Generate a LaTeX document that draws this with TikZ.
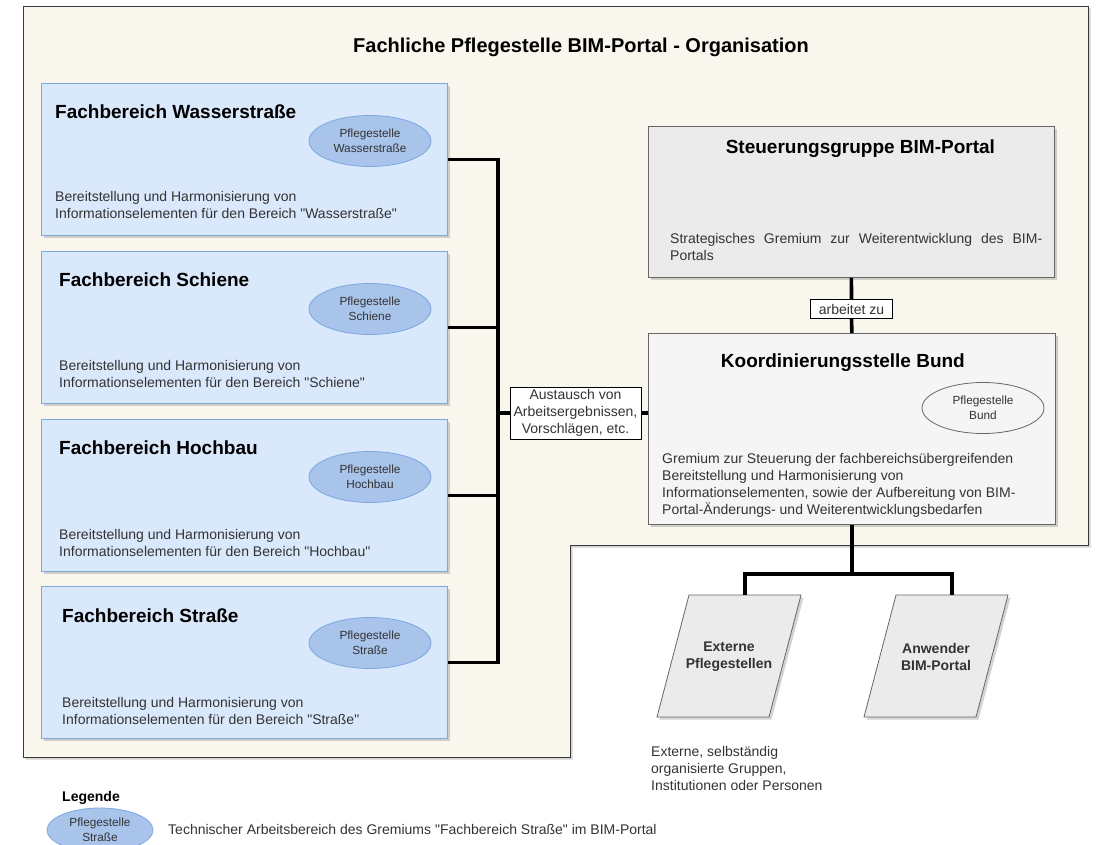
\documentclass[tikz,border=0pt]{standalone}
\usepackage{fontspec}
\setmainfont{Liberation Sans}
\newfontfamily\qfont{Liberation Sans}[Ligatures=ResetAll]
\usetikzlibrary{shapes.geometric,shadows}
\definecolor{bgcream}{HTML}{F9F7ED}
\definecolor{blfill}{HTML}{DAE8FC}
\definecolor{blstroke}{HTML}{7EA6E0}
\definecolor{elfill}{HTML}{A9C4EB}
\definecolor{grfill}{HTML}{EBEBEB}
\definecolor{ltfill}{HTML}{F5F5F5}
\definecolor{grstroke}{HTML}{666666}
\definecolor{framec}{HTML}{3A3A3A}
\definecolor{txt}{HTML}{333333}
\newcommand\myfs[2]{\fontsize{#1}{#2}\selectfont}
\newcommand\sq{{\qfont\char34}}
\begin{document}
\begin{tikzpicture}[x=1pt,y=-1pt,
  shad/.style={drop shadow={shadow xshift=2.5pt,shadow yshift=-2.5pt,opacity=0.35,fill=gray}},
  fbox/.style={draw=blstroke,fill=blfill,line width=0.9pt,minimum width=406pt,minimum height=152pt,inner sep=0pt,anchor=north west,shad},
  gbox/.style={draw=grstroke,line width=0.8pt,inner sep=0pt,anchor=north west,shad},
  ttl/.style={font=\myfs{19}{22}\bfseries,inner sep=0pt,anchor=west,text=black},
  desc/.style={font=\myfs{14}{17},inner sep=0pt,anchor=west,align=left,text=txt},
  pfl/.style={ellipse,draw=blstroke,fill=elfill,line width=0.8pt,minimum width=122pt,minimum height=51pt,inner sep=0pt,align=center,font=\myfs{11.8}{15.5},text=txt},
  lab/.style={draw=black,fill=white,line width=0.7pt,inner sep=0pt,align=center,font=\myfs{14}{17},text=txt},
  conn/.style={line width=3.6pt,black,line join=miter},
  para/.style={draw=grstroke,fill=grfill,line width=0.8pt,shad}
]
\useasboundingbox (0,0) rectangle (1097,845);

% outer frame
\path[draw=framec,fill=bgcream,line width=0.9pt,shad]
  (23,6) -- (1088,6) -- (1088,545) -- (570,545) -- (570,757) -- (23,757) -- cycle;

\node[font=\myfs{20}{24}\bfseries,inner sep=0pt] (title) at (581,47) {Fachliche Pflegestelle BIM-Portal - Organisation};

% Fachbereiche
\node[fbox] (b1) at (41,83) {};
\node[fbox] (b2) at (41,251) {};
\node[fbox] (b3) at (41,419) {};
\node[fbox] (b4) at (41,586) {};

\node[ttl] (t1) at ([shift={(14,29)}]b1.north west) {Fachbereich Wasserstraße};
\node[pfl] (e1) at ([shift={(329,58)}]b1.north west) {Pflegestelle\\Wasserstraße};
\node[desc] (d1) at ([shift={(14,122)}]b1.north west) {Bereitstellung und Harmonisierung von\\Informationselementen für den Bereich \sq Wasserstraße\sq};

\node[ttl] (t2) at ([shift={(18,29)}]b2.north west) {Fachbereich Schiene};
\node[pfl] (e2) at ([shift={(329,58)}]b2.north west) {Pflegestelle\\Schiene};
\node[desc] (d2) at ([shift={(18,123)}]b2.north west) {Bereitstellung und Harmonisierung von\\Informationselementen für den Bereich \sq Schiene\sq};

\node[ttl] (t3) at ([shift={(18,29)}]b3.north west) {Fachbereich Hochbau};
\node[pfl] (e3) at ([shift={(329,58)}]b3.north west) {Pflegestelle\\Hochbau};
\node[desc] (d3) at ([shift={(18,124)}]b3.north west) {Bereitstellung und Harmonisierung von\\Informationselementen für den Bereich \sq Hochbau\sq};

\node[ttl] (t4) at ([shift={(21,30)}]b4.north west) {Fachbereich Straße};
\node[pfl] (e4) at ([shift={(329,57)}]b4.north west) {Pflegestelle\\Straße};
\node[desc] (d4) at ([shift={(21,125)}]b4.north west) {Bereitstellung und Harmonisierung von\\Informationselementen für den Bereich \sq Straße\sq};

% right side boxes
\node[gbox,fill=grfill,minimum width=406pt,minimum height=151pt] (sg) at (648,126) {};
\node[ttl,anchor=center] (sgt) at ([shift={(9,23)}]sg.north) {Steuerungsgruppe BIM-Portal};
\node[desc] (sgd) at ([shift={(22,121)}]sg.north west) {\makebox[372pt][s]{Strategisches Gremium zur Weiterentwicklung des BIM-}\\Portals};

\node[gbox,fill=ltfill,minimum width=407pt,minimum height=191pt] (kb) at (648,333) {};
\node[ttl,anchor=center] (kbt) at ([shift={(-9,30)}]kb.north) {Koordinierungsstelle Bund};
\node[pfl,draw=grstroke,fill=ltfill] (eb) at ([shift={(335,75)}]kb.north west) {Pflegestelle\\Bund};
\node[desc] (kbd) at ([shift={(14,152)}]kb.north west) {Gremium zur Steuerung der fachbereichsübergreifenden\\Bereitstellung und Harmonisierung von\\Informationselementen, sowie der Aufbereitung von BIM-\\Portal-Änderungs- und Weiterentwicklungsbedarfen};

% labels
\node[lab,minimum width=131pt,minimum height=52pt] (lab1) at (575.5,413) {Austausch von\\Arbeitsergebnissen,\\Vorschlägen, etc.};
\node[lab,minimum width=82pt,minimum height=19pt] (lab2) at (851.5,309) {arbeitet zu};

% connectors left bus
\coordinate (busx) at (498,0);
\coordinate (j1) at (b1.east -| busx);
\coordinate (j2) at (b2.east -| busx);
\coordinate (j3) at (b3.east -| busx);
\coordinate (j4) at (b4.east -| busx);
\coordinate (jm) at (lab1.west -| busx);
\draw[conn] (b1.east) -- (j1) -- (j4) -- (b4.east);
\draw[conn] (b2.east) -- (j2);
\draw[conn] (b3.east) -- (j3);
\draw[conn] (jm) -- (lab1.west);
\draw[conn] (lab1.east) -- (lab1.east -| kb.west);
\draw[conn] (sg.south) -- (lab2.north);
\draw[conn] (lab2.south) -- (kb.north);

% parallelograms
\path[para] (657,717) -- (689,595) -- (801,595) -- (769,717) -- cycle;
\path[para] (864,717) -- (896,595) -- (1008,595) -- (976,717) -- cycle;
\coordinate (p1top) at (745,595);
\coordinate (p2top) at (952,595);
\node[font=\myfs{14}{17}\bfseries,align=center,inner sep=0pt,text=txt] (p1) at (729,657) {Externe\\Pflegestellen};
\node[font=\myfs{14}{17}\bfseries,align=center,inner sep=0pt,text=txt] (p2) at (936,657) {Anwender\\BIM-Portal};

\coordinate (forky) at (0,574);
\coordinate (fork) at (kb.south |- forky);
\draw[conn] (kb.south) -- (fork);
\draw[conn] (p1top) |- (p2top |- forky) -- (p2top);

\node[desc] (ext) at (651,768) {Externe, selbständig\\organisierte Gruppen,\\Institutionen oder Personen};

% legend
\node[font=\myfs{14}{17}\bfseries,inner sep=0pt] (leg) at (91,798) {Legende};
\node[pfl,minimum width=106pt,minimum height=44pt] (le) at (100,830) {Pflegestelle\\Straße};
\node[desc] (let) at (168,829) {Technischer Arbeitsbereich des Gremiums \sq Fachbereich Straße\sq{} im BIM-Portal};
\end{tikzpicture}
\end{document}
